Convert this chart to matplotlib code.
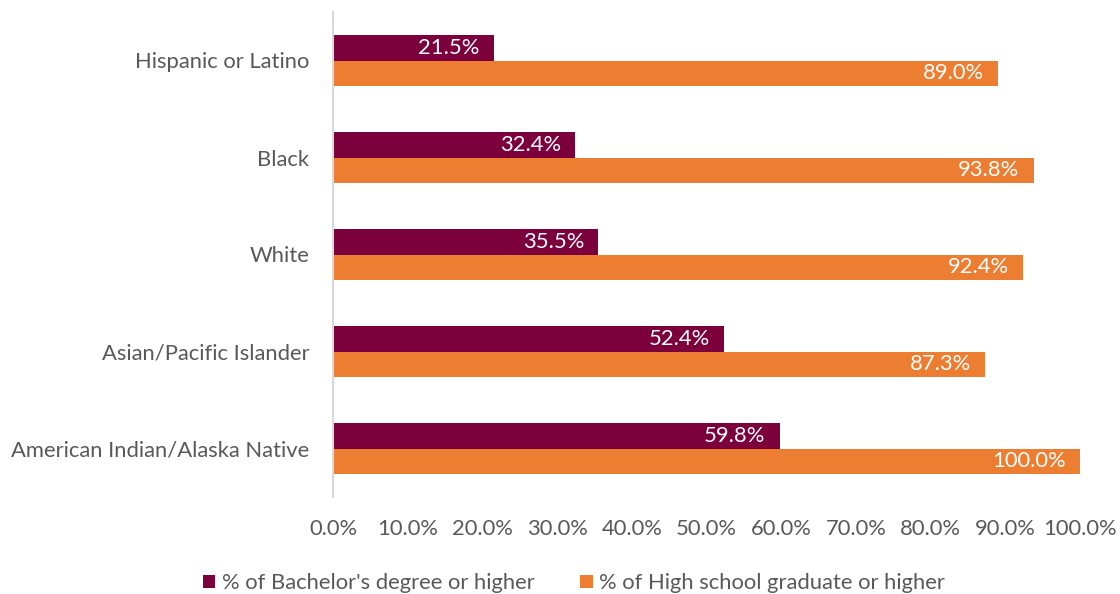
import matplotlib
matplotlib.use("Agg")
import matplotlib.pyplot as plt
import numpy as np

categories = ["American Indian/Alaska Native", "Asian/Pacific Islander", "White", "Black", "Hispanic or Latino"]
bachelors = [59.8, 52.4, 35.5, 32.4, 21.5]
high_school = [100.0, 87.3, 92.4, 93.8, 89.0]
series_names = ["% of Bachelor's degree or higher", "% of High school graduate or higher"]
xticks = [0, 10, 20, 30, 40, 50, 60, 70, 80, 90, 100]

plt.rcParams['font.family'] = ['Lato', 'DejaVu Sans']
maroon = "#7B003B"
orange = "#ED7D31"
grey = "#595959"
fs = 15.8

fig = plt.figure(figsize=(11.2, 5.94), dpi=100)
ax = fig.add_axes([333/1120, 1 - 497/594, (1080-333)/1120, (497-12)/594])

y = np.arange(len(categories))
h = 0.258
b1 = ax.barh(y + h/2, bachelors, height=h, color=maroon, label=series_names[0])
b2 = ax.barh(y - h/2, high_school, height=h, color=orange, label=series_names[1])

for bars, vals in ((b1, bachelors), (b2, high_school)):
    for bar, v in zip(bars, vals):
        ax.text(bar.get_width() - 1.9, bar.get_y() + bar.get_height()/2, f"{v:.1f}%",
                ha="right", va="center", color="white", fontsize=fs)

ax.set_xlim(0, 100)
ax.set_ylim(-0.5, len(categories) - 0.5)
ax.set_yticks(y)
ax.set_yticklabels(categories, fontsize=fs, color=grey)
ax.set_xticks(xticks)
ax.set_xticklabels([f"{t:.1f}%" for t in xticks], fontsize=fs, color=grey)
ax.tick_params(axis="both", length=0)
ax.tick_params(axis="y", pad=17)
ax.tick_params(axis="x", pad=16)
for s in ("top", "right", "bottom"):
    ax.spines[s].set_visible(False)
ax.spines["left"].set_color("#D9D9D9")
ax.spines["left"].set_linewidth(1.5)

fig.legend(handles=[b1, b2], labels=series_names, loc="center", bbox_to_anchor=(574/1120, 1 - 583/594),
           ncol=2, frameon=False, fontsize=fs, labelcolor=grey, handlelength=0.55, handleheight=0.55,
           handletextpad=0.3, columnspacing=2.1)

fig.savefig("out.png", dpi=100)
